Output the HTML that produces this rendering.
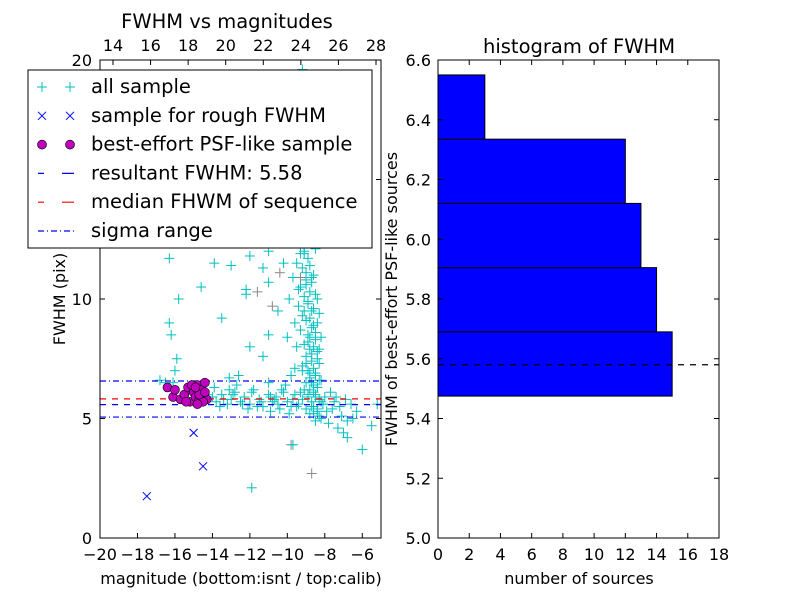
<!DOCTYPE html>
<html><head><meta charset="utf-8"><style>
html,body{margin:0;padding:0;background:#fff}
svg{display:block;font-family:"DejaVu Sans","Liberation Sans",sans-serif}
</style></head><body>
<svg id="fig" width="800" height="600" viewBox="0 0 800 600"></svg>
<script>
// ---- left scatter data ----
const allX=[-9.2,-9.0,-9.4,-8.9,-9.3,-9.1,-8.8,-9.5,-9.0,-9.2,-8.7,-9.4,-9.0,-8.8,-9.3,-9.1,-8.9,-9.5,-9.2,-8.6,-9.0,-9.3,-8.8,-9.1,-8.9,-9.4,-8.7,-9.2,-9.0,-8.6,-9.3,-8.9,-8.5,-9.1,-8.8,-8.4,-9.0,-8.7,-8.3,-9.2,-8.9,-8.5,-8.8,-8.2,-9.0,-8.6,-8.4,-8.8,-8.5,-8.9,-8.3,-8.7,-8.1,-8.6,-8.4,-8.8,-8.2,-8.5,-7.8,-7.3,-7.0,-6.8,-6.5,-5.5,-6.0,
-9.6,-8.5,-9.7,-8.4,-9.6,-8.3,-9.5,-8.2,-9.6,-9.8,-10.0,-9.9,-10.2,-9.7,
-9.1,-8.9,-9.0,-8.8,-9.2,-8.7,-9.0,-8.9,-8.6,-9.1,-8.8,-8.7,-9.0,-8.5,-8.9,-8.6,-8.8,-8.4,-8.7,-8.5,-8.9,-8.6,-8.3,-8.7,-8.4,-9.0,-8.6,-8.8,-8.5,-8.3,-8.7,-8.4,-8.6,-8.9,-8.5,-8.2,-8.7,-8.4,-8.6,-8.3,-9.3,-9.4,-9.1,-8.8,-9.2,-8.6,-8.9,-9.0,-8.7,-9.1,
-14,-13.8,-13.5,-13.2,-13,-12.8,-12.5,-12.3,-12,-11.8,-11.5,-11.3,-11,-10.8,-10.6,-10.4,-10.2,-10,-9.8,-9.6,-9.4,-9.2,-9.0,-8.0,-7.7,-7.5,-7.2,-6.9,-6.6,-6.3,-5.2,-12.7,-11.0,-10.1,-13.6,-12.1,-10.9,-9.9,-14.3,-13.9,
-13.4,-12.9,-12.4,-11.9,-11.4,-10.9,-10.5,-10.3,-9.7,-9.5,-9.3,-8.1,-7.9,-7.6,-7.4,-7.1,-6.8,-13.1,-11.6,-10.7,
-16.2,-16.3,-16.0,-16.3,-15.8,-15.9,-16.0,-16.1,-16.5,-14.6,-13.9,-13.5,-11,-11,-12,-12.2,-13.0,-12.2,-11.3,-10.5,-11.3,-12.0,-11,-12.6,-13.1,-9.7,-11.9,-16.8,-13.2,-12.5,-10.3,-10.2,-9.9,-10.0];
const allY=[19.6,18.5,17,16.5,16,15.5,15,14.8,14.2,13.8,13.5,13,12.8,12.5,12.2,12,11.7,11.5,11.3,11,10.8,10.5,10.3,10.1,9.9,9.7,9.5,9.3,9.1,8.9,8.7,8.5,8.3,8.1,7.9,7.8,7.6,7.4,7.3,7.2,7.0,6.9,6.7,6.6,6.5,6.4,6.3,6.2,6.0,5.9,5.8,5.7,5.6,5.5,5.3,5.2,5.0,4.9,4.8,4.6,4.4,4.2,5.0,4.7,3.7,
12.9,12.1,10.9,10.0,9.0,9.4,8.0,8.4,7.1,6.8,15.5,14,17,18.8,
18.0,17.4,16.8,16.2,15.2,14.5,13.3,12.9,12.3,11.9,11.4,10.9,10.6,10.2,9.8,9.6,9.2,9.0,8.8,8.6,8.2,8.0,7.9,7.7,7.5,7.3,7.1,6.9,6.8,6.6,6.5,6.3,6.1,6.0,5.9,5.7,5.5,5.4,5.2,5.1,11.9,10.4,9.5,8.4,7.0,12.6,13.9,11.1,10.7,6.2,
5.9,5.7,6.0,5.6,5.8,6.1,5.7,5.9,5.6,6.2,5.8,5.5,6.0,5.7,5.9,5.4,6.1,5.7,5.5,6.0,5.6,5.8,5.4,5.9,6.1,5.7,5.5,5.8,5.6,5.3,5.6,6.4,6.5,6.4,5.5,5.4,5.3,5.2,6.0,6.3,
5.8,6.0,5.6,6.1,5.7,5.9,5.6,6.2,5.8,5.5,6.1,5.6,5.3,5.4,5.9,5.1,4.9,6.2,5.5,5.8,
8.5,9,12.8,11.7,10,7.5,7,6.5,6.5,10.5,11.5,9.2,12,10.7,11.8,10.2,11.4,10.4,11.3,9.5,7.6,8.0,8.5,6.8,6.7,3.9,2.1,6.6,12.4,12.7,13,11.5,10,8.4];
const greyX=[-11.6,-10.8,-9.8,-8.7,-9.3,-10.4];
const greyY=[10.3,9.7,3.9,2.7,10.9,11.1];
const roughX=[-17.5,-15.0,-14.5];
const roughY=[1.75,4.4,3.0];
const psfX=[-16.4,-16.1,-16.0,-15.7,-15.5,-15.3,-15.2,-15.0,-14.9,-14.8,-14.7,-14.6,-14.5,-14.4,-14.3,-14.5,-14.8,-15.1,-14.7,-15.4,-14.4,-14.9];
const psfY=[6.3,5.9,6.2,5.8,6.0,6.3,5.7,6.1,5.9,6.4,5.8,6.2,6.0,6.5,5.8,5.7,5.6,6.4,6.0,5.7,6.1,6.3];
const resultFWHM=5.58, medianFWHM=5.82, sigmaLo=5.06, sigmaHi=6.57;
const leftXTicks=[-20,-18,-16,-14,-12,-10,-8,-6];
const leftTopTicks=[14,16,18,20,22,24,26,28];
const leftYTicks=[0,5,10,15,20];
// ---- histogram data ----
const binEdges=[5.475,5.69,5.905,6.12,6.335,6.55];
const binCounts=[15,14,13,12,3];
const histXTicks=[0,2,4,6,8,10,12,14,16,18];
const histYTicks=[5.0,5.2,5.4,5.6,5.8,6.0,6.2,6.4,6.6];

const NS="http://www.w3.org/2000/svg";
const svg=document.getElementById('fig');
function mk(tag,attrs,parent){const e=document.createElementNS(NS,tag);for(const k in attrs)e.setAttribute(k,attrs[k]);(parent||svg).appendChild(e);return e;}
function txt(s,x,y,size,anchor,parent,extra){const t=mk('text',Object.assign({x:x,y:y,'font-size':size,'text-anchor':anchor||'middle',fill:'#000'},extra||{}),parent);t.textContent=s;return t;}

const L={x0:100,x1:381,y0:538,y1:60};
const lx=v=>L.x0+(v+20)/15*(L.x1-L.x0);
const ly=v=>L.y0-v/20*(L.y0-L.y1);
const topx=v=>113+(v-14)/14*(376-113);

const gL=mk('g',{});


function plus(x,y,c,name){const g=mk('g',{stroke:c,'stroke-width':1},gL);


mk('line',{x1:x-5,y1:y,x2:x+5,y2:y},g);mk('line',{x1:x,y1:y-5,x2:x,y2:y+5},g);}
function cross(x,y,name){const g=mk('g',{stroke:'#0000ff','stroke-width':1},gL);


mk('line',{x1:x-4,y1:y-4,x2:x+4,y2:y+4},g);mk('line',{x1:x-4,y1:y+4,x2:x+4,y2:y-4},g);}
const clip=mk('clipPath',{id:'lc'});mk('rect',{x:L.x0,y:L.y1,width:L.x1-L.x0,height:L.y0-L.y1},clip);
gL.setAttribute('clip-path','url(#lc)');
for(let i=0;i<greyX.length;i++)plus(lx(greyX[i]),ly(greyY[i]),'#888','grey-point');
for(let i=0;i<allX.length;i++)plus(lx(allX[i]),ly(allY[i]),'#00bfbf','all-sample-point');
for(let i=0;i<roughX.length;i++)cross(lx(roughX[i]),ly(roughY[i]),'rough-sample-point');
function hline(v,c,dash,name){const l=mk('line',{x1:L.x0,x2:L.x1,y1:ly(v),y2:ly(v),stroke:c,'stroke-width':1.2,'stroke-dasharray':dash},gL);

}
hline(resultFWHM,'#0000ff','6 6','resultant-fwhm-line');
hline(medianFWHM,'#ff0000','6 6','median-fwhm-line');
hline(sigmaLo,'#0000ff','6 3 1 3','sigma-low-line');
hline(sigmaHi,'#0000ff','6 3 1 3','sigma-high-line');
for(let i=0;i<psfX.length;i++){const c=mk('circle',{cx:lx(psfX[i]),cy:ly(psfY[i]),r:4.5,fill:'#bf00bf',stroke:'#000','stroke-width':0.6},gL);

}

const fr=mk('rect',{x:L.x0,y:L.y1,width:L.x1-L.x0,height:L.y0-L.y1,fill:'none',stroke:'#000','stroke-width':1});


leftXTicks.forEach(v=>{const x=lx(v);mk('line',{x1:x,x2:x,y1:L.y0,y2:L.y0-5,stroke:'#000'});
const t=txt(v<0?'\u2212'+Math.abs(v):String(v),x,560,16);

});
leftTopTicks.forEach(v=>{const x=topx(v);mk('line',{x1:x,x2:x,y1:L.y1,y2:L.y1+5,stroke:'#000'});
const t=txt(String(v),x,51,16);

});
leftYTicks.forEach(v=>{const y=ly(v);mk('line',{x1:L.x0,x2:L.x0+5,y1:y,y2:y,stroke:'#000'});mk('line',{x1:L.x1,x2:L.x1-5,y1:y,y2:y,stroke:'#000'});
const t=txt(String(v),L.x0-8,y+6,16,'end');

});
let t;
t=txt('FWHM vs magnitudes',227,28,19.5);
t=txt('magnitude (bottom:isnt / top:calib)',241,584,16);
t=txt('FWHM (pix)',65,299,16,'middle',null,{transform:'rotate(-90 65 299)'});

// legend
const lg=mk('g',{});


mk('rect',{x:28,y:70,width:344,height:178,fill:'#fff',stroke:'#000','stroke-width':1},lg);
const labels=['all sample','sample for rough FWHM','best-effort PSF-like sample','resultant FWHM: 5.58','median FHWM of sequence','sigma range'];
labels.forEach((s,i)=>{const y=87+i*28.8;const e=mk('g',{},lg);


if(i==0){[42,70].forEach(x=>{mk('line',{x1:x-5,x2:x+5,y1:y,y2:y,stroke:'#00bfbf'},e);mk('line',{x1:x,x2:x,y1:y-5,y2:y+5,stroke:'#00bfbf'},e);});}
if(i==1){[42,70].forEach(x=>{mk('line',{x1:x-4,x2:x+4,y1:y-4,y2:y+4,stroke:'#00f'},e);mk('line',{x1:x-4,x2:x+4,y1:y+4,y2:y-4,stroke:'#00f'},e);});}
if(i==2){[42,70].forEach(x=>mk('circle',{cx:x,cy:y,r:4.5,fill:'#bf00bf',stroke:'#000','stroke-width':0.6},e));}
if(i==3)mk('line',{x1:38,x2:76,y1:y,y2:y,stroke:'#00f','stroke-width':1.2,'stroke-dasharray':'6 18 6 0'},e);
if(i==4)mk('line',{x1:38,x2:76,y1:y,y2:y,stroke:'#f00','stroke-width':1.2,'stroke-dasharray':'6 18 6 0'},e);
if(i==5)mk('line',{x1:38,x2:76,y1:y,y2:y,stroke:'#00f','stroke-width':1.2,'stroke-dasharray':'6 3 1 3'},e);
txt(s,91,y+6,19.5,'start',e);});

// right histogram
const R={x0:438,x1:719,y0:538,y1:60};
const rx=v=>R.x0+v/18*(R.x1-R.x0);
const ry=v=>R.y0-(v-5.0)/1.6*(R.y0-R.y1);
const gR=mk('g',{});


binCounts.forEach((c,i)=>{const r=mk('rect',{x:rx(0),y:ry(binEdges[i+1]),width:rx(c)-rx(0),height:ry(binEdges[i])-ry(binEdges[i+1]),fill:'#0000ff',stroke:'#000','stroke-width':1},gR);

});
const dl=mk('line',{x1:R.x0,x2:R.x1,y1:ry(resultFWHM),y2:ry(resultFWHM),stroke:'#000','stroke-width':1.2,'stroke-dasharray':'6 6'},gR);


const fr2=mk('rect',{x:R.x0,y:R.y1,width:R.x1-R.x0,height:R.y0-R.y1,fill:'none',stroke:'#000','stroke-width':1});


histXTicks.forEach(v=>{const x=rx(v);mk('line',{x1:x,x2:x,y1:R.y0,y2:R.y0-5,stroke:'#000'});mk('line',{x1:x,x2:x,y1:R.y1,y2:R.y1+5,stroke:'#000'});
const t=txt(String(v),x,560,16);

});
histYTicks.forEach(v=>{const y=ry(v);mk('line',{x1:R.x0,x2:R.x0+5,y1:y,y2:y,stroke:'#000'});mk('line',{x1:R.x1,x2:R.x1-5,y1:y,y2:y,stroke:'#000'});
const t=txt(v.toFixed(1),R.x0-7,y+6,16,'end');

});
t=txt('histogram of FWHM',579,53,19.5);
t=txt('number of sources',579,584,16);
t=txt('FWHM of best-effort PSF-like sources',397,299,16,'middle',null,{transform:'rotate(-90 397 299)'});
</script>
</body></html>
